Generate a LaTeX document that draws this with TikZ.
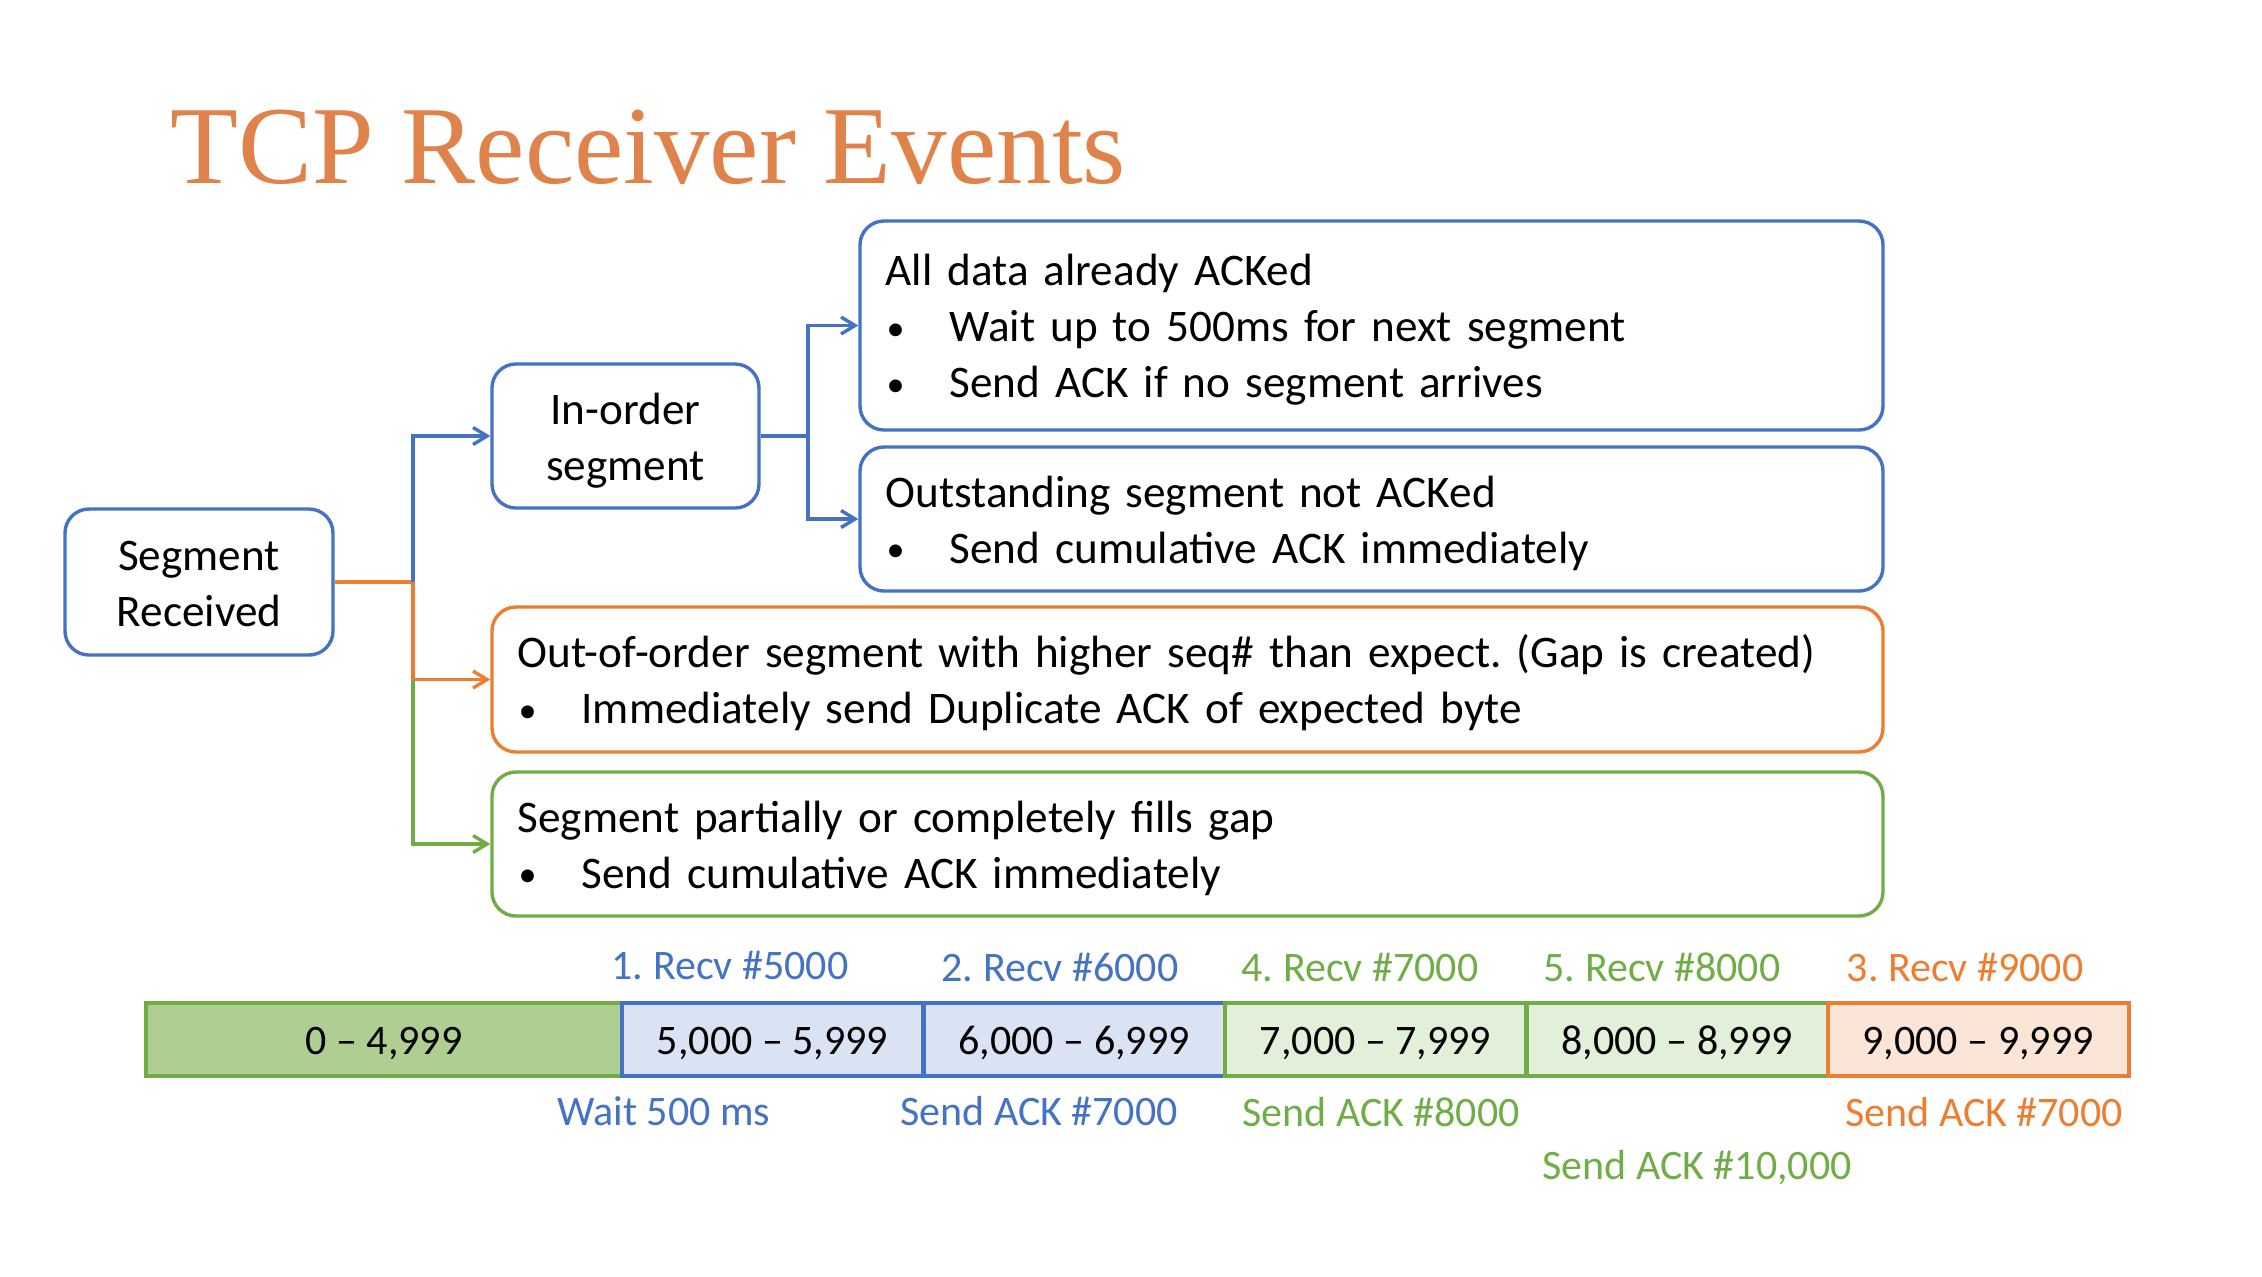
\documentclass[tikz,border=0pt]{standalone}
\usepackage{fontspec}
\setmainfont{Carlito}
\newfontfamily\titlefont{Liberation Serif}
\usetikzlibrary{arrows.meta}
\definecolor{accblue}{HTML}{4472C4}
\definecolor{accorange}{HTML}{ED7D31}
\definecolor{accgreen}{HTML}{70AD47}
\definecolor{titleorange}{HTML}{E0834A}
\definecolor{fillgreen}{HTML}{AFCF92}
\definecolor{fillblue}{HTML}{DAE3F3}
\definecolor{filllightgreen}{HTML}{E2EFD9}
\definecolor{fillorange}{HTML}{FBE5D6}
\frenchspacing
% bullet with hanging indent for list lines inside the event boxes
\newcommand{\bul}{\hspace*{0.5pt}\makebox[31.5pt][l]{\raisebox{0.8pt}{\scalebox{0.8}{\textbullet}}}}
% strut that lowers the first line a little inside a box
\newcommand{\toprule}{\rule{0pt}{20pt}}
\begin{document}
\begin{tikzpicture}[x=0.5pt,y=-0.5pt,
  box/.style={draw, line width=1.7pt, rounded corners=12pt, fill=white, inner sep=0pt},
  evbox/.style={box, align=left, inner xsep=12.75pt, inner ysep=0pt,
    font=\fontsize{22.6}{28}\selectfont},
  link/.style={line width=1.7pt},
  arr/.style={link, -{Straight Barb[length=7pt,width=8.5pt,line width=1.7pt]}},
  cell/.style={draw, line width=2pt, minimum height=36.5pt, inner sep=0pt,
    text height=15pt, text depth=0pt, font=\fontsize{21}{25}\selectfont},
  lbl/.style={font=\fontsize{21}{25}\selectfont, inner sep=0pt}
]
\useasboundingbox (0,0) rectangle (2262,1276);

% title
\node[anchor=base west, inner sep=0pt, text=titleorange,
  font=\titlefont\fontsize{55.5}{60}\selectfont] (title) at (170,183) {TCP Receiver Events};

% decision tree
\node[box, draw=accblue, minimum width=134pt, minimum height=73pt, align=center,
  font=\fontsize{22.6}{28}\selectfont] (sr) at (199,582) {\rule{0pt}{17pt}Segment\\Received};
\node[box, draw=accblue, minimum width=133.5pt, minimum height=72pt, align=center,
  font=\fontsize{22.6}{28}\selectfont] (io) at (625.5,436) {\toprule In-order\\segment};

\node[evbox, draw=accblue, text width=486pt, minimum height=104.5pt] (ad) at (1371.5,325.5)
  {\toprule All data already ACKed\\
   \bul Wait up to 500ms for next segment\\
   \bul Send ACK if no segment arrives};
\node[evbox, draw=accblue, text width=486pt, minimum height=72pt] (os) at (1371.5,519)
  {\toprule Outstanding segment not ACKed\\
   \bul Send cumulative ACK immediately};
\node[evbox, draw=accorange, text width=670pt, minimum height=72.5pt] (oo) at (1187.5,679.5)
  {\toprule Out-of-order segment with higher seq\# than expect. (Gap is created)\\
   \bul Immediately send Duplicate ACK of expected byte};
\node[evbox, draw=accgreen, text width=670pt, minimum height=72pt] (pr) at (1187.5,844)
  {\toprule Segment partially or completely fills gap\\
   \bul Send cumulative ACK immediately};

% connectors
\coordinate (jr) at (413,582);
\coordinate (jo) at (413,679.5);
\coordinate (ji) at (808,436);
\draw[link, accorange] (sr.east) -- (jr);
\draw[arr, accblue] (jr) |- (io.west);
\draw[arr, accorange] (jr) |- (oo.west);
\draw[arr, accgreen] (jo) |- (pr.west);
\draw[link, accblue] (io.east) -- (ji);
\draw[arr, accblue] (ji) |- (ad.west);
\draw[arr, accblue] (ji) |- (os.west);

% sequence-number bar
\node[cell, draw=accgreen, fill=fillgreen, minimum width=238pt] (c0) at (384,1039.5) {0 – 4,999};
\node[cell, draw=accblue, fill=fillblue, minimum width=150.5pt] (c1) at (772.5,1039.5) {5,000 – 5,999};
\node[cell, draw=accblue, fill=fillblue, minimum width=150.5pt] (c2) at (1074,1039.5) {6,000 – 6,999};
\node[cell, draw=accgreen, fill=filllightgreen, minimum width=150.5pt] (c3) at (1375.5,1039.5) {7,000 – 7,999};
\node[cell, draw=accgreen, fill=filllightgreen, minimum width=150.5pt] (c4) at (1677,1039.5) {8,000 – 8,999};
\node[cell, draw=accorange, fill=fillorange, minimum width=150.5pt] (c5) at (1978,1039.5) {9,000 – 9,999};

% event labels above and below the bar
\node[lbl, text=accblue] (r1) at (730,965) {1. Recv \#5000};
\node[lbl, text=accblue] (r2) at (1060,967) {2. Recv \#6000};
\node[lbl, text=accgreen] (r4) at (1360,967) {4. Recv \#7000};
\node[lbl, text=accgreen] (r5) at (1662,967) {5. Recv \#8000};
\node[lbl, text=accorange] (r3) at (1965,967) {3. Recv \#9000};

\node[lbl, text=accblue] (a1) at (664,1111) {Wait 500 ms};
\node[lbl, text=accblue] (a2) at (1039,1111) {Send ACK \#7000};
\node[lbl, text=accgreen] (a4) at (1381,1112) {Send ACK \#8000};
\node[lbl, text=accorange] (a3) at (1984,1112) {Send ACK \#7000};
\node[lbl, text=accgreen] (a5) at (1697,1168) {Send ACK \#10,000};
\end{tikzpicture}
\end{document}
